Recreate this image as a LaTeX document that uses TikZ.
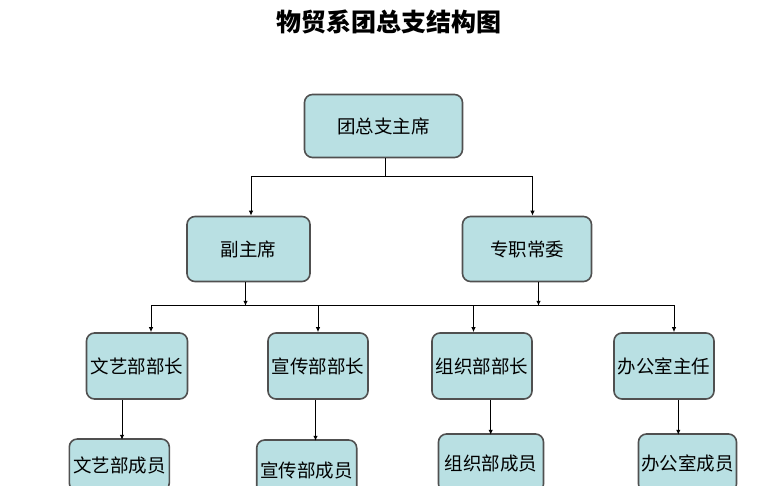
\documentclass[tikz,border=0pt]{standalone}
\usepackage{fontspec}
\setmainfont{Noto Sans CJK SC}
\usetikzlibrary{arrows.meta}
\definecolor{boxfill}{RGB}{185,224,227}
\definecolor{boxline}{RGB}{80,80,80}
\tikzset{
  box/.style={draw=boxline, fill=boxfill, line width=1.6pt, rounded corners=8pt,
    inner sep=0pt, align=center, font=\fontsize{18.5}{20}\selectfont},
  conn/.style={draw=black, line width=1pt},
  arr/.style={conn, -{Latex[length=5pt,width=4.5pt]}},
}
\begin{document}
\begin{tikzpicture}[x=1pt,y=-1pt]
\useasboundingbox (0,0) rectangle (779,485);
\clip (0,0) rectangle (779,485);
\node[font=\fontsize{25}{27}\selectfont\bfseries] (title) at (389,22) {物贸系团总支结构图};
% level 0
\node[box, minimum width=158pt, minimum height=63pt] (top) at (383.5,126) {团总支主席};
% level 1
\node[box, minimum width=123pt, minimum height=65pt] (fu) at (248.5,249) {副主席};
\node[box, minimum width=129pt, minimum height=65pt] (zz) at (527,249) {专职常委};
% level 2
\node[box, minimum width=101pt, minimum height=66pt] (wy) at (137,366) {文艺部部长};
\node[box, minimum width=100pt, minimum height=66pt] (xc) at (318,366) {宣传部部长};
\node[box, minimum width=100pt, minimum height=66pt] (zb) at (482,366) {组织部部长};
\node[box, minimum width=100pt, minimum height=66pt] (bg) at (664,366) {办公室主任};
% level 3
\node[box, minimum width=100pt, minimum height=52pt] (wyc) at (119.3,465) {文艺部成员};
\node[box, minimum width=100pt, minimum height=60pt] (xcc) at (306.7,470) {宣传部成员};
\node[box, minimum width=105pt, minimum height=58pt] (zbc) at (491,463) {组织部成员};
\node[box, minimum width=98pt, minimum height=58pt] (bgc) at (687.5,463) {办公室成员};
% connectors level 0 -> 1
\draw[conn] ([xshift=1.5pt]top.south) -- ++(0,18) coordinate (j1);
\draw[arr] (j1) -| ([xshift=2.5pt]fu.north);
\draw[arr] (j1) -| ([xshift=5.5pt]zz.north);
% bar
\coordinate (barL) at (151,305);
\coordinate (barR) at (674,305);
\draw[conn] (barL) -- (barR);
\draw[arr] ([xshift=-3pt]fu.south) -- ++(0,23.5);
\draw[arr] ([xshift=11.5pt]zz.south) -- ++(0,23.5);
\draw[arr] (barL) -- (barL |- wy.north);
\draw[arr] (xc.north |- barL) -- (xc.north);
\draw[arr] ([xshift=-8.5pt]zb.north |- barL) -- ([xshift=-8.5pt]zb.north);
\draw[arr] (barR) -- (barR |- bg.north);
% level 2 -> 3
\draw[arr] ([xshift=-15pt]wy.south) -- ++(0,40);
\draw[arr] ([xshift=-2.5pt]xc.south) -- ++(0,41);
\draw[arr] ([xshift=8.7pt]zb.south) -- ++(0,35);
\draw[arr] ([xshift=14.3pt]bg.south) -- ++(0,35);
\end{tikzpicture}
\end{document}
